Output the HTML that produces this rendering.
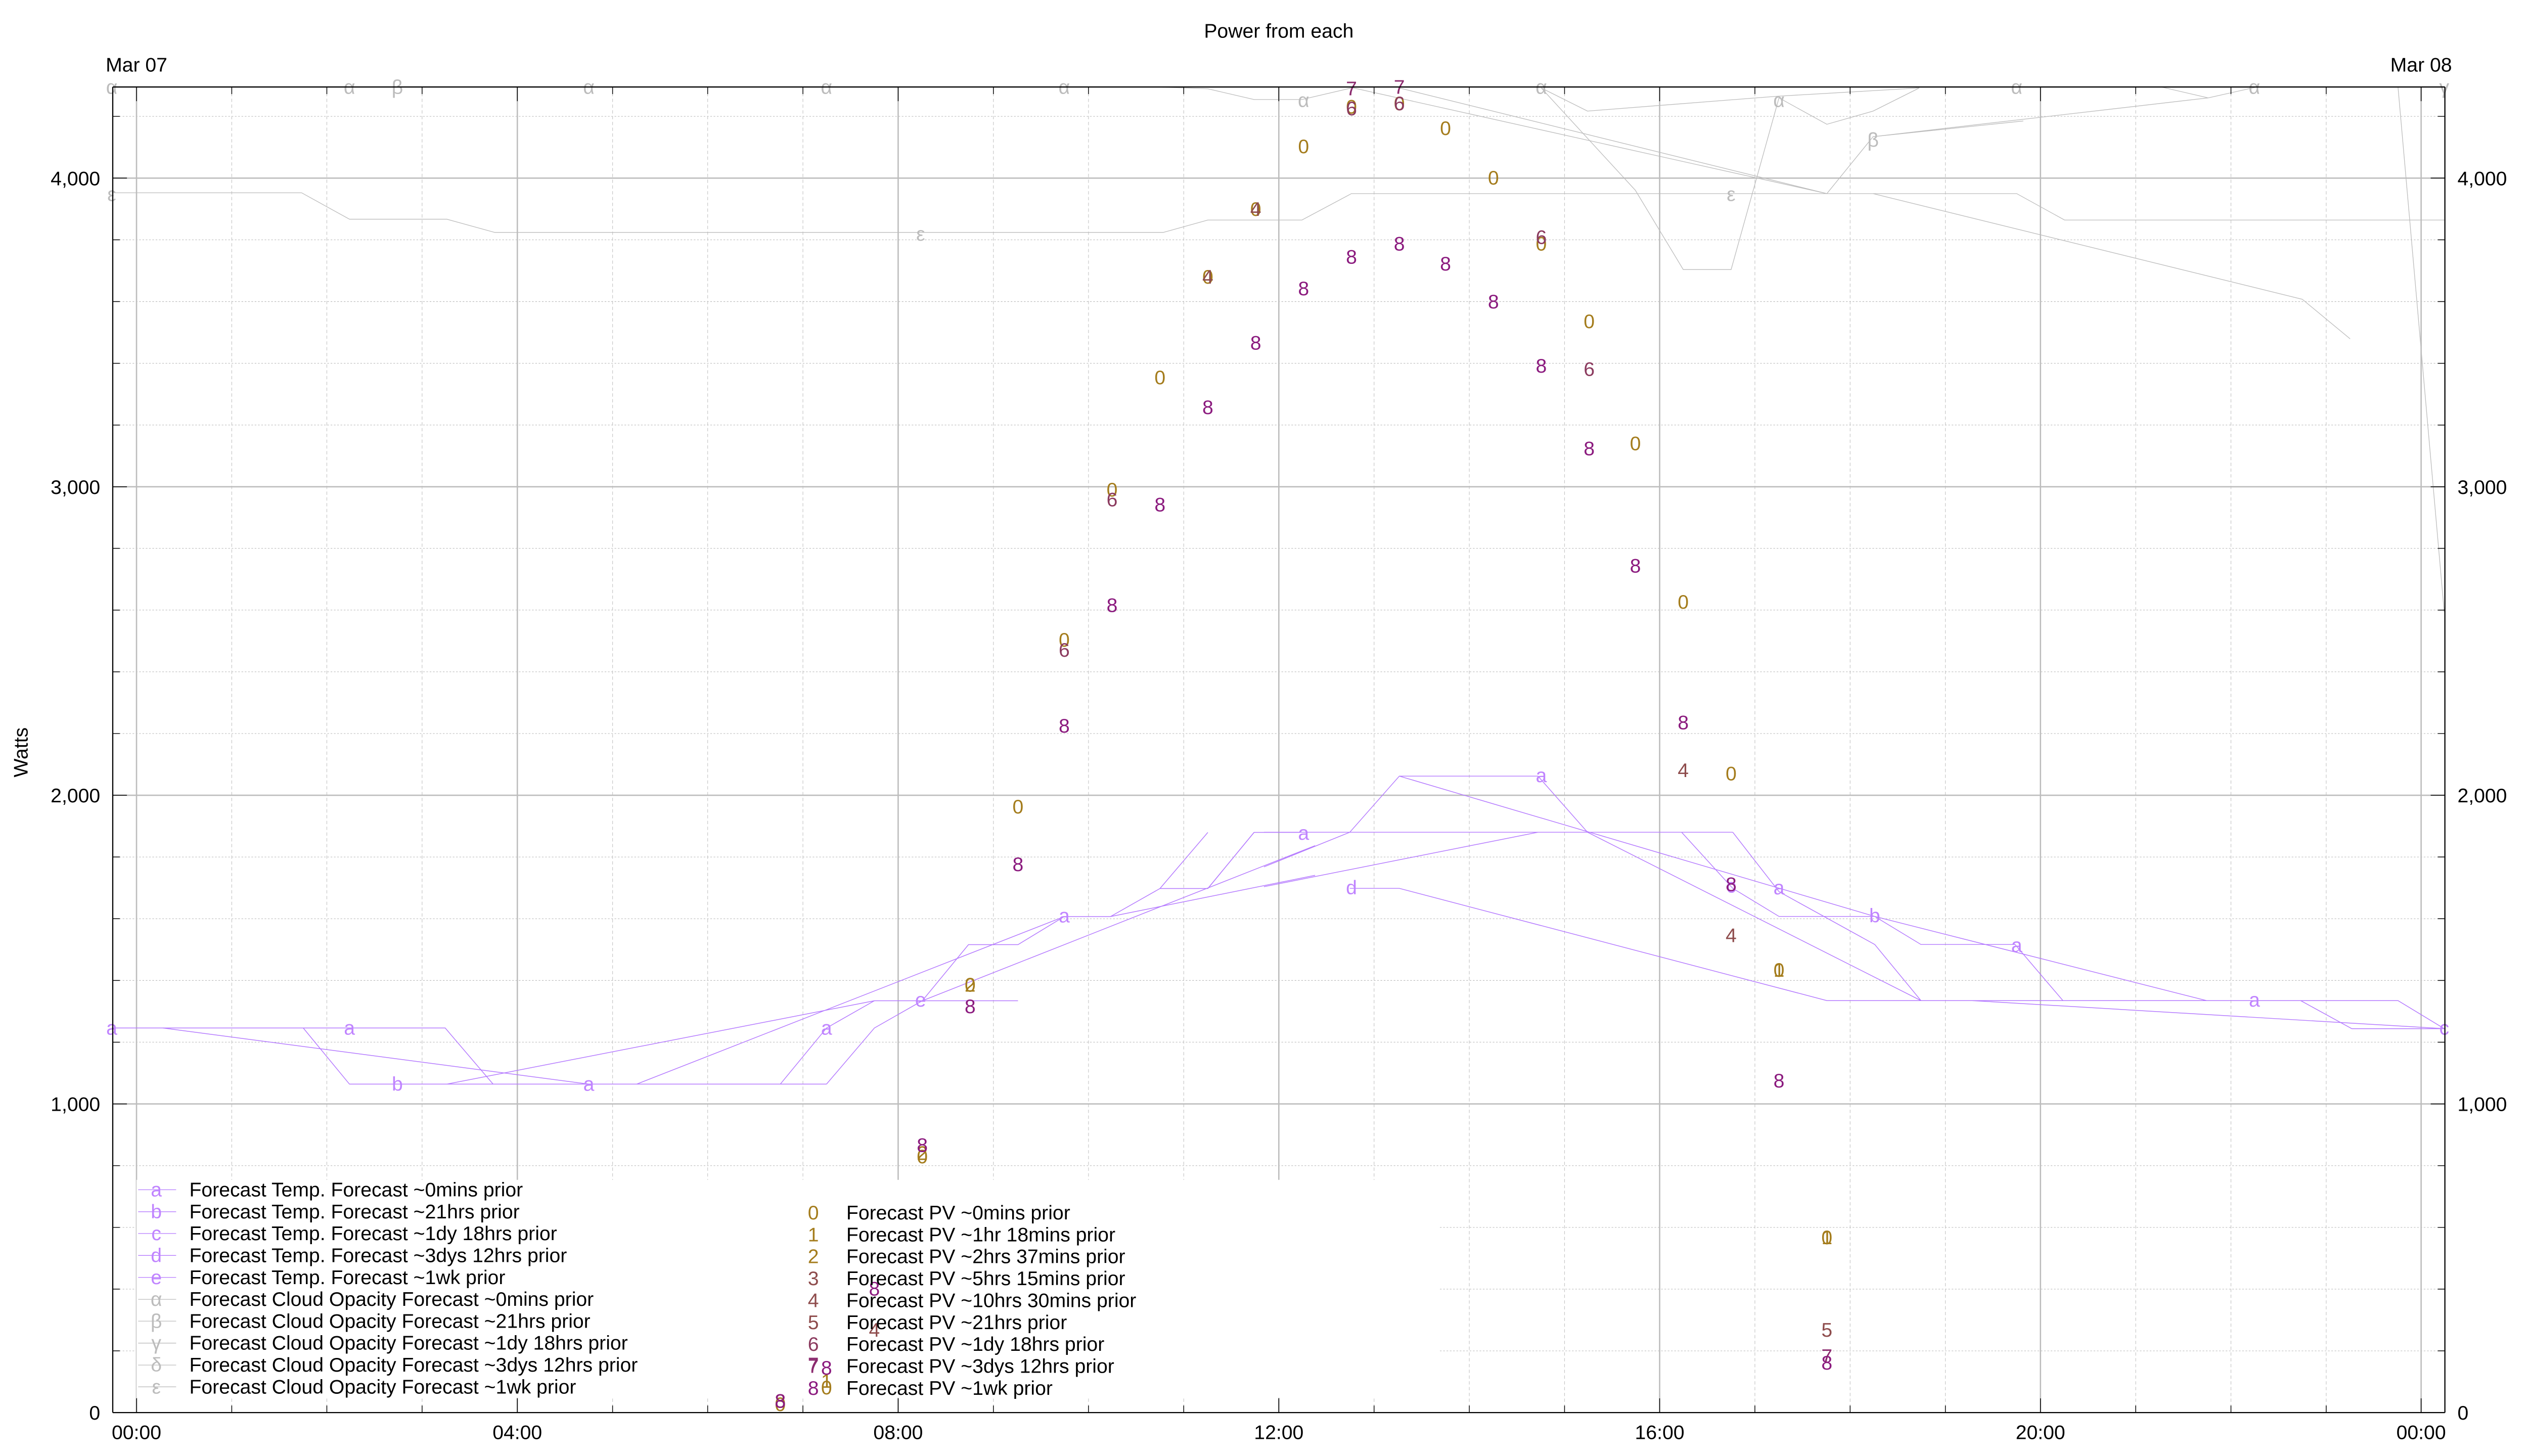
<!DOCTYPE html>
<html><head><meta charset="utf-8"><style>
html,body{margin:0;padding:0;background:#fff;}
svg{display:block;}
text{font-family:"Liberation Sans",sans-serif;}
</style></head><body>
<svg width="5120" height="2880" viewBox="-0.7 -0.8 1568.2 882.1" preserveAspectRatio="none" xmlns="http://www.w3.org/2000/svg">
<rect x="-1" y="-1" width="1570" height="884" fill="#fff"/>
<!-- minor horizontal grid -->
<g stroke="#bdbdbd" stroke-width="0.35" stroke-dasharray="1,1">
<line x1="67.6" x2="1480.4" y1="817.6" y2="817.6"/><line x1="67.6" x2="1480.4" y1="780.2" y2="780.2"/><line x1="67.6" x2="1480.4" y1="742.8" y2="742.8"/><line x1="67.6" x2="1480.4" y1="705.4" y2="705.4"/>
<line x1="67.6" x2="1480.4" y1="630.6" y2="630.6"/><line x1="67.6" x2="1480.4" y1="593.2" y2="593.2"/><line x1="67.6" x2="1480.4" y1="555.8" y2="555.8"/><line x1="67.6" x2="1480.4" y1="518.4" y2="518.4"/>
<line x1="67.6" x2="1480.4" y1="443.6" y2="443.6"/><line x1="67.6" x2="1480.4" y1="406.2" y2="406.2"/><line x1="67.6" x2="1480.4" y1="368.8" y2="368.8"/><line x1="67.6" x2="1480.4" y1="331.4" y2="331.4"/>
<line x1="67.6" x2="1480.4" y1="256.7" y2="256.7"/><line x1="67.6" x2="1480.4" y1="219.3" y2="219.3"/><line x1="67.6" x2="1480.4" y1="181.9" y2="181.9"/><line x1="67.6" x2="1480.4" y1="144.5" y2="144.5"/>
<line x1="67.6" x2="1480.4" y1="69.7" y2="69.7"/>
</g>
<!-- minor vertical grid -->
<g stroke="#c4c4c4" stroke-width="0.35" stroke-dasharray="2,1.5">
<line x1="139.7" x2="139.7" y1="52" y2="855"/><line x1="197.3" x2="197.3" y1="52" y2="855"/><line x1="255" x2="255" y1="52" y2="855"/>
<line x1="370.4" x2="370.4" y1="52" y2="855"/><line x1="428" x2="428" y1="52" y2="855"/><line x1="485.7" x2="485.7" y1="52" y2="855"/>
<line x1="601.1" x2="601.1" y1="52" y2="855"/><line x1="658.7" x2="658.7" y1="52" y2="855"/><line x1="716.4" x2="716.4" y1="52" y2="855"/>
<line x1="831.7" x2="831.7" y1="52" y2="855"/><line x1="889.4" x2="889.4" y1="52" y2="855"/><line x1="947.1" x2="947.1" y1="52" y2="855"/>
<line x1="1062.4" x2="1062.4" y1="52" y2="855"/><line x1="1120.1" x2="1120.1" y1="52" y2="855"/><line x1="1177.8" x2="1177.8" y1="52" y2="855"/>
<line x1="1293.1" x2="1293.1" y1="52" y2="855"/><line x1="1350.8" x2="1350.8" y1="52" y2="855"/><line x1="1408.5" x2="1408.5" y1="52" y2="855"/>
</g>
<!-- major grid -->
<g stroke="#bdbdbd" stroke-width="0.8">
<line x1="67.6" x2="1480.4" y1="668" y2="668"/><line x1="67.6" x2="1480.4" y1="481" y2="481"/><line x1="67.6" x2="1480.4" y1="294.1" y2="294.1"/><line x1="67.6" x2="1480.4" y1="107.1" y2="107.1"/>
<line x1="82" x2="82" y1="52" y2="855"/><line x1="312.7" x2="312.7" y1="52" y2="855"/><line x1="543.4" x2="543.4" y1="52" y2="855"/><line x1="774" x2="774" y1="52" y2="855"/><line x1="1004.7" x2="1004.7" y1="52" y2="855"/><line x1="1235.4" x2="1235.4" y1="52" y2="855"/><line x1="1466" x2="1466" y1="52" y2="855"/>
</g>
<!-- legend background -->
<rect x="82" y="714" width="789" height="132" fill="#fff"/>
<!-- cloud lines -->
<g fill="none" stroke="#bcbcbc" stroke-width="0.4">
<polyline points="67,116 182,116 211,132 270,132 299,140 704,140 731,132.5 788,132.5 818,116.5 1221,116.5 1250,132.5 1480,132.5"/>
<polyline points="703,52 731,53 759,59.5 788,59.5 818,52.5"/>
<polyline points="817,52 1106,116.5"/>
<polyline points="847,52.5 1106,116.5"/>
<polyline points="1106,116.5 1134,82 1225,72.5"/>
<polyline points="1134,82 1337,58.5 1366,52"/>
<polyline points="1309,52 1337,58.5"/>
<polyline points="933,52.5 961,66.5 1076,57.5 1162,52.5"/>
<polyline points="1077,58.5 1106,74.5 1134,66.5 1162,52.5"/>
<polyline points="933,52.5 990,114.5 1019,162.5 1048,162.5 1077,58.5"/>
<polyline points="1134,116.5 1394,180.5 1423,204.5"/>
<polyline points="1452,52 1480,370"/>
</g>
<g fill="#bcbcbc" font-size="12" text-anchor="middle">
<text x="67" y="56">α</text><text x="211" y="56">α</text><text x="240" y="56">β</text><text x="356" y="56">α</text><text x="500" y="56">α</text><text x="644" y="56">α</text><text x="789" y="64">α</text><text x="933" y="56">α</text><text x="1077" y="64">α</text><text x="1221" y="56">α</text><text x="1365" y="56">α</text>
<text x="1134" y="88">β</text><text x="1480" y="56">γ</text>
<text x="67" y="121">ε</text><text x="557" y="145">ε</text><text x="1048" y="121">ε</text>
</g>
<!-- temp lines -->
<g fill="none" stroke="#b479ff" stroke-width="0.45">
<polyline points="67,622 269,622 298,656"/>
<polyline points="183,622 211,656 500,656"/>
<polyline points="98,622 356,656"/>
<polyline points="270,656 529,605.5 616,605.5"/>
<polyline points="385,656 644,554.5"/>
<polyline points="472,656 500,622 529,605.5"/>
<polyline points="500,656 529,622 558,605.5 586,571.5 616,571.5 644,554.5 672,554.5 702,537.5 731,537.5 759,503.5 787,503.5"/>
<polyline points="558,605.5 796,511.5"/>
<polyline points="672,554.5 796,529.5"/>
<polyline points="702,537.5 731,503.5"/>
<polyline points="731,537.5 759,503.5"/>
<polyline points="765,503.4 1049,503.4"/>
<polyline points="817,503.4 847,469.4 931,469.4 961,503.4 1163,605.4"/>
<polyline points="847,469.4 1135,554.4 1336,605.4"/>
<polyline points="765,524.4 817,503.4"/>
<polyline points="765,536.4 931,503.4"/>
<polyline points="817,537.4 847,537.4 1106,605.4 1452,605.4 1480,622.4"/>
<polyline points="1018,503.4 1049,537.4 1077,554.4 1135,554.4 1163,571.4 1220,571.4 1249,605.4"/>
<polyline points="1049,503.4 1077,539.4 1135,571.4 1163,605.4"/>
<polyline points="1194,605.4 1480,622.4"/>
<polyline points="1393,605.4 1424,622.4 1480,622.4"/>
</g>
<g fill="#c084ff" font-size="12" text-anchor="middle">
<text x="67" y="626">a</text><text x="211" y="626">a</text><text x="356" y="660">a</text><text x="500" y="626">a</text><text x="644" y="558">a</text><text x="789" y="508">a</text><text x="933" y="473">a</text><text x="1077" y="541">a</text><text x="1221" y="576">a</text><text x="1365" y="609">a</text>
<text x="240" y="660">b</text><text x="1135" y="558">b</text>
<text x="1480" y="626">c</text><text x="1048" y="540">c</text>
<text x="818" y="541">d</text>
<text x="557" y="609">e</text>
</g>
<!-- PV points -->
<g font-size="12" text-anchor="middle">
<g fill="#a47c1c">
<text x="558" y="704">0</text><text x="587" y="600">0</text><text x="616" y="492">0</text><text x="644" y="391">0</text><text x="673" y="300">0</text><text x="702" y="232">0</text><text x="731" y="171">0</text><text x="760" y="130">0</text><text x="789" y="92">0</text><text x="818" y="68">0</text><text x="847" y="66">0</text><text x="875" y="81">0</text><text x="904" y="111">0</text><text x="933" y="151">0</text><text x="962" y="198">0</text><text x="990" y="272">0</text><text x="1019" y="368">0</text><text x="1048" y="472">0</text><text x="1077" y="591">0</text><text x="1106" y="753">0</text><text x="500" y="844">0</text><text x="472" y="854">0</text>
<text x="1077" y="591">1</text><text x="1106" y="753">1</text><text x="500" y="840">1</text><text x="558" y="702">2</text><text x="587" y="600">2</text>
</g>
<g fill="#8e4c4c">
<text x="1019" y="470">4</text><text x="1048" y="570">4</text><text x="731" y="171">4</text><text x="760" y="130">4</text><text x="1106" y="809">5</text><text x="529" y="809">4</text><text x="472" y="852">3</text>
</g>
<g fill="#8b3a5e">
<text x="644" y="397">6</text><text x="673" y="306">6</text><text x="818" y="69">6</text><text x="847" y="66">6</text><text x="933" y="147">6</text><text x="962" y="227">6</text>
</g>
<g fill="#8b2a6e">
<text x="818" y="57">7</text><text x="847" y="56">7</text><text x="1106" y="825">7</text><text x="492" y="830">7</text>
</g>
<g fill="#8b1a7e">
<text x="558" y="697">8</text><text x="587" y="613">8</text><text x="616" y="527">8</text><text x="644" y="443">8</text><text x="673" y="370">8</text><text x="702" y="309">8</text><text x="731" y="250">8</text><text x="760" y="211">8</text><text x="789" y="178">8</text><text x="818" y="159">8</text><text x="847" y="151">8</text><text x="875" y="163">8</text><text x="904" y="186">8</text><text x="933" y="225">8</text><text x="962" y="275">8</text><text x="990" y="346">8</text><text x="1019" y="441">8</text><text x="1048" y="539">8</text><text x="1077" y="658">8</text><text x="1106" y="829">8</text><text x="500" y="832">8</text><text x="529" y="784">8</text><text x="472" y="852">8</text>
</g>
</g>
<!-- legend -->
<g stroke-width="0.4">
<g stroke="#b479ff"><line x1="83" x2="106" y1="720" y2="720"/><line x1="83" x2="106" y1="733.3" y2="733.3"/><line x1="83" x2="106" y1="746.5" y2="746.5"/><line x1="83" x2="106" y1="759.8" y2="759.8"/><line x1="83" x2="106" y1="773.1" y2="773.1"/></g>
<g stroke="#bcbcbc"><line x1="83" x2="106" y1="786.4" y2="786.4"/><line x1="83" x2="106" y1="799.6" y2="799.6"/><line x1="83" x2="106" y1="812.9" y2="812.9"/><line x1="83" x2="106" y1="826.2" y2="826.2"/><line x1="83" x2="106" y1="839.4" y2="839.4"/></g>
</g>
<g font-size="12" text-anchor="middle">
<g fill="#c084ff"><text x="94" y="724">a</text><text x="94" y="737.3">b</text><text x="94" y="750.5">c</text><text x="94" y="763.8">d</text><text x="94" y="777.1">e</text></g>
<g fill="#bcbcbc"><text x="94" y="790.4">α</text><text x="94" y="803.6">β</text><text x="94" y="816.9">γ</text><text x="94" y="830.2">δ</text><text x="94" y="843.4">ε</text></g>
<text x="492" y="738" fill="#a47c1c">0</text><text x="492" y="751.3" fill="#a47c1c">1</text><text x="492" y="764.5" fill="#a47c1c">2</text><text x="492" y="777.8" fill="#8e4c4c">3</text><text x="492" y="791.1" fill="#8e4c4c">4</text><text x="492" y="804.4" fill="#8e4c4c">5</text><text x="492" y="817.6" fill="#8b3a5e">6</text><text x="492" y="830.9" fill="#8b2a6e">7</text><text x="492" y="844.2" fill="#8b1a7e">8</text>
</g>
<g font-size="12" fill="#000">
<text x="114" y="724">Forecast Temp. Forecast ~0mins prior</text>
<text x="114" y="737.3">Forecast Temp. Forecast ~21hrs prior</text>
<text x="114" y="750.5">Forecast Temp. Forecast ~1dy 18hrs prior</text>
<text x="114" y="763.8">Forecast Temp. Forecast ~3dys 12hrs prior</text>
<text x="114" y="777.1">Forecast Temp. Forecast ~1wk prior</text>
<text x="114" y="790.4">Forecast Cloud Opacity Forecast ~0mins prior</text>
<text x="114" y="803.6">Forecast Cloud Opacity Forecast ~21hrs prior</text>
<text x="114" y="816.9">Forecast Cloud Opacity Forecast ~1dy 18hrs prior</text>
<text x="114" y="830.2">Forecast Cloud Opacity Forecast ~3dys 12hrs prior</text>
<text x="114" y="843.4">Forecast Cloud Opacity Forecast ~1wk prior</text>
<text x="512" y="738">Forecast PV ~0mins prior</text>
<text x="512" y="751.3">Forecast PV ~1hr 18mins prior</text>
<text x="512" y="764.5">Forecast PV ~2hrs 37mins prior</text>
<text x="512" y="777.8">Forecast PV ~5hrs 15mins prior</text>
<text x="512" y="791.1">Forecast PV ~10hrs 30mins prior</text>
<text x="512" y="804.4">Forecast PV ~21hrs prior</text>
<text x="512" y="817.6">Forecast PV ~1dy 18hrs prior</text>
<text x="512" y="830.9">Forecast PV ~3dys 12hrs prior</text>
<text x="512" y="844.2">Forecast PV ~1wk prior</text>
</g>
<!-- axes frame -->
<g stroke="#000" stroke-width="0.7" fill="none">
<line x1="67.6" x2="1480.4" y1="855" y2="855"/>
<line x1="67.6" x2="1480.4" y1="51.9" y2="51.9"/>
<line x1="67.6" x2="67.6" y1="51.9" y2="855"/>
<line x1="1480.4" x2="1480.4" y1="51.9" y2="855"/>
</g>
<g stroke="#000" stroke-width="0.45">
<!-- major x ticks -->
<path d="M82 855v-8.6M312.7 855v-8.6M543.4 855v-8.6M774 855v-8.6M1004.7 855v-8.6M1235.4 855v-8.6M1466 855v-8.6M82 51.9v8.6M312.7 51.9v8.6M543.4 51.9v8.6M774 51.9v8.6M1004.7 51.9v8.6M1235.4 51.9v8.6M1466 51.9v8.6"/>
<path d="M139.7 855v-4.3M197.3 855v-4.3M255 855v-4.3M370.4 855v-4.3M428 855v-4.3M485.7 855v-4.3M601.1 855v-4.3M658.7 855v-4.3M716.4 855v-4.3M831.7 855v-4.3M889.4 855v-4.3M947.1 855v-4.3M1062.4 855v-4.3M1120.1 855v-4.3M1177.8 855v-4.3M1293.1 855v-4.3M1350.8 855v-4.3M1408.5 855v-4.3M139.7 51.9v4.3M197.3 51.9v4.3M255 51.9v4.3M370.4 51.9v4.3M428 51.9v4.3M485.7 51.9v4.3M601.1 51.9v4.3M658.7 51.9v4.3M716.4 51.9v4.3M831.7 51.9v4.3M889.4 51.9v4.3M947.1 51.9v4.3M1062.4 51.9v4.3M1120.1 51.9v4.3M1177.8 51.9v4.3M1293.1 51.9v4.3M1350.8 51.9v4.3M1408.5 51.9v4.3"/>
<path d="M67.6 668h8.6M67.6 481h8.6M67.6 294.1h8.6M67.6 107.1h8.6M1480.4 668h-8.6M1480.4 481h-8.6M1480.4 294.1h-8.6M1480.4 107.1h-8.6"/>
<path d="M67.6 817.6h4.3M67.6 780.2h4.3M67.6 742.8h4.3M67.6 705.4h4.3M67.6 630.6h4.3M67.6 593.2h4.3M67.6 555.8h4.3M67.6 518.4h4.3M67.6 443.6h4.3M67.6 406.2h4.3M67.6 368.8h4.3M67.6 331.4h4.3M67.6 256.7h4.3M67.6 219.3h4.3M67.6 181.9h4.3M67.6 144.5h4.3M67.6 69.7h4.3M1480.4 817.6h-4.3M1480.4 780.2h-4.3M1480.4 742.8h-4.3M1480.4 705.4h-4.3M1480.4 630.6h-4.3M1480.4 593.2h-4.3M1480.4 555.8h-4.3M1480.4 518.4h-4.3M1480.4 443.6h-4.3M1480.4 406.2h-4.3M1480.4 368.8h-4.3M1480.4 331.4h-4.3M1480.4 256.7h-4.3M1480.4 219.3h-4.3M1480.4 181.9h-4.3M1480.4 144.5h-4.3M1480.4 69.7h-4.3"/>
</g>
<!-- labels -->
<g font-size="12" fill="#000">
<text x="774" y="22" text-anchor="middle">Power from each</text>
<text x="82" y="42.5" text-anchor="middle">Mar 07</text>
<text x="1466" y="42.5" text-anchor="middle">Mar 08</text>
<g text-anchor="middle">
<text x="82" y="871">00:00</text><text x="312.7" y="871">04:00</text><text x="543.4" y="871">08:00</text><text x="774" y="871">12:00</text><text x="1004.7" y="871">16:00</text><text x="1235.4" y="871">20:00</text><text x="1466" y="871">00:00</text>
</g>
<g text-anchor="end">
<text x="60" y="859.3">0</text><text x="60" y="672.3">1,000</text><text x="60" y="485.3">2,000</text><text x="60" y="298.4">3,000</text><text x="60" y="111.4">4,000</text>
</g>
<g text-anchor="start">
<text x="1488" y="859.3">0</text><text x="1488" y="672.3">1,000</text><text x="1488" y="485.3">2,000</text><text x="1488" y="298.4">3,000</text><text x="1488" y="111.4">4,000</text>
</g>
<text transform="translate(16,455) rotate(-90)" text-anchor="middle">Watts</text>
<text transform="translate(1542,455) rotate(-90)" text-anchor="middle">Watts</text>
</g>
</svg>
</body></html>
